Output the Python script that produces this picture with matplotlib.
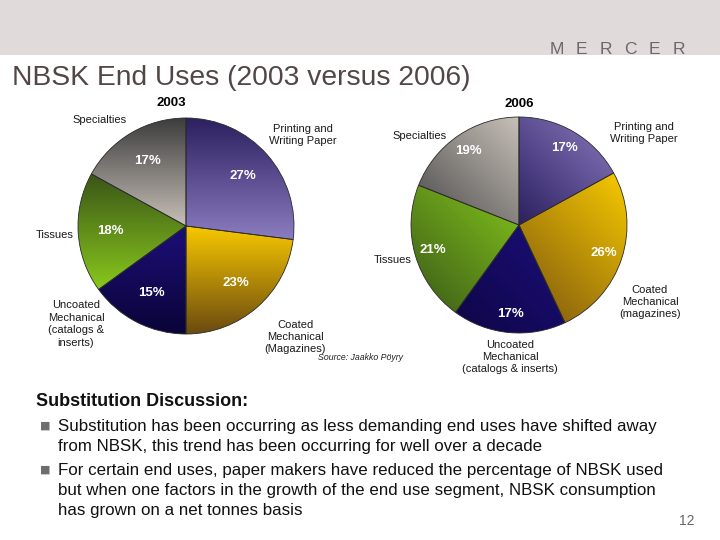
import numpy as np
import matplotlib.pyplot as plt
from matplotlib.colors import to_rgb
from matplotlib.patches import Rectangle

plt.rcParams['font.family'] = ['Liberation Sans', 'DejaVu Sans']

W, H = 720, 540

# data
categories = ['Printing and Writing Paper', 'Coated Mechanical',
              'Uncoated Mechanical', 'Tissues', 'Specialties']
share_2003 = [27, 23, 15, 18, 17]
share_2006 = [17, 26, 17, 21, 19]
labels_2003 = ['Printing and\nWriting Paper', 'Coated\nMechanical\n(Magazines)',
               'Uncoated\nMechanical\n(catalogs &\ninserts)', 'Tissues', 'Specialties']
labels_2006 = ['Printing and\nWriting Paper', 'Coated\nMechanical\n(magazines)',
               'Uncoated\nMechanical\n(catalogs & inserts)', 'Tissues', 'Specialties']
bullet_lines = [
    ["Substitution has been occurring as less demanding end uses have shifted away",
     "from NBSK, this trend has been occurring for well over a decade"],
    ["For certain end uses, paper makers have reduced the percentage of NBSK used",
     "but when one factors in the growth of the end use segment, NBSK consumption",
     "has grown on a net tonnes basis"],
]

# gradient colours (start, end) per slice
grad_2003 = [('#2c2060', '#8c7cc0'), ('#f8c800', '#6a4a10'), ('#1c0f78', '#0a0438'),
             ('#3a5418', '#88c81c'), ('#3c3c3c', '#c8c0b8')]
grad_2006 = [('#8a7ac0', '#2c2060'), ('#f8ca00', '#7a5410'), ('#1c0f78', '#0e0648'),
             ('#84c41c', '#3a5a18'), ('#c8c0b8', '#4a4a4a')]

# positions in pixel coords (y measured from top)
pos_2003 = [(303, 135), (295, 337), (76, 324), (55, 235), (100, 120)]
pos_2006 = [(644, 133), (650, 302), (510, 357), (393, 260), (420, 136)]
bullet_y = [426, 470]
line_step = 20.5


def Y(py):
    return H - py


def gradient_fill(ax, wedge, c0, c1, d):
    x0, y0, x1, y1 = wedge.get_path().get_extents().extents
    xs = np.linspace(x0, x1, 120)
    ys = np.linspace(y0, y1, 120)
    X, Yg = np.meshgrid(xs, ys)
    u = X * d[0] + Yg * d[1]
    t = (u - u.min()) / (u.max() - u.min())
    a, b = np.array(to_rgb(c0)), np.array(to_rgb(c1))
    img = a[None, None, :] * (1 - t[..., None]) + b[None, None, :] * t[..., None]
    im = ax.imshow(img, extent=(x0, x1, y0, y1), origin='lower',
                   interpolation='bilinear', zorder=1)
    im.set_clip_path(wedge)


def draw_pie(ax, values, center, r, grads, d, pctdist):
    wedges, _, pcts = ax.pie(values, center=(center[0], Y(center[1])), radius=r,
                             startangle=90, counterclock=False,
                             autopct=lambda p: '%.0f%%' % p, pctdistance=pctdist,
                             colors=['none'] * len(values),
                             wedgeprops=dict(edgecolor='#2a2a2a', linewidth=0.6, zorder=2),
                             textprops=dict(color='white', fontweight='bold', fontsize=9.5))
    for w, (c0, c1) in zip(wedges, grads):
        gradient_fill(ax, w, c0, c1, d)
    for t in pcts:
        t.set_zorder(4)


fig = plt.figure(figsize=(7.2, 5.4), dpi=100)
ax = fig.add_axes([0, 0, 1, 1])

draw_pie(ax, share_2003, (186, 226), 108, grad_2003, (0, -1), 0.7)
draw_pie(ax, share_2006, (519, 225), 108, grad_2006, (-0.7071, -0.7071), 0.83)

for lab, (x, y) in zip(labels_2003, pos_2003):
    ax.text(x, Y(y), lab, ha='center', va='center', fontsize=8, linespacing=1.3,
            color='#1a1a1a')
for lab, (x, y) in zip(labels_2006, pos_2006):
    ax.text(x, Y(y), lab, ha='center', va='center', fontsize=8, linespacing=1.25,
            color='#1a1a1a')

ax.text(171, Y(103), '2003', ha='center', va='center', fontsize=9.5, fontweight='bold')
ax.text(519, Y(104), '2006', ha='center', va='center', fontsize=9.5, fontweight='bold')
ax.text(318, Y(357), 'Source: Jaakko Pöyry', ha='left', va='center', fontsize=6.3,
        style='italic', color='#222222')

# header band
ax.add_patch(Rectangle((0, Y(55)), W, 55, facecolor='#e1dadb', edgecolor='none', zorder=0))
for i, ch in enumerate('MERCER'):
    ax.text(557 + i * 24.4, Y(50), ch, ha='center', va='center', fontsize=12.5,
            color='#6e686a', zorder=5)
ax.text(12, Y(78), 'NBSK End Uses (2003 versus 2006)', ha='left', va='center',
        fontsize=20.3, color='#524646')

# discussion text
ax.text(36, Y(402), 'Substitution Discussion:', ha='left', va='center', fontsize=13,
        fontweight='bold', color='#111111')
for lines, by in zip(bullet_lines, bullet_y):
    ax.text(45, Y(by), '■', ha='center', va='center', fontsize=8, color='#6e6e6e',
            family='DejaVu Sans')
    for k, line in enumerate(lines):
        ax.text(58, Y(by + k * line_step), line, ha='left', va='center', fontsize=12.2,
                color='#111111')
ax.text(694, Y(521), '12', ha='right', va='center', fontsize=10, color='#666666')

ax.set_xlim(0, W)
ax.set_ylim(0, H)
ax.set_aspect('auto')
ax.axis('off')

fig.savefig('out.png', dpi=100)
